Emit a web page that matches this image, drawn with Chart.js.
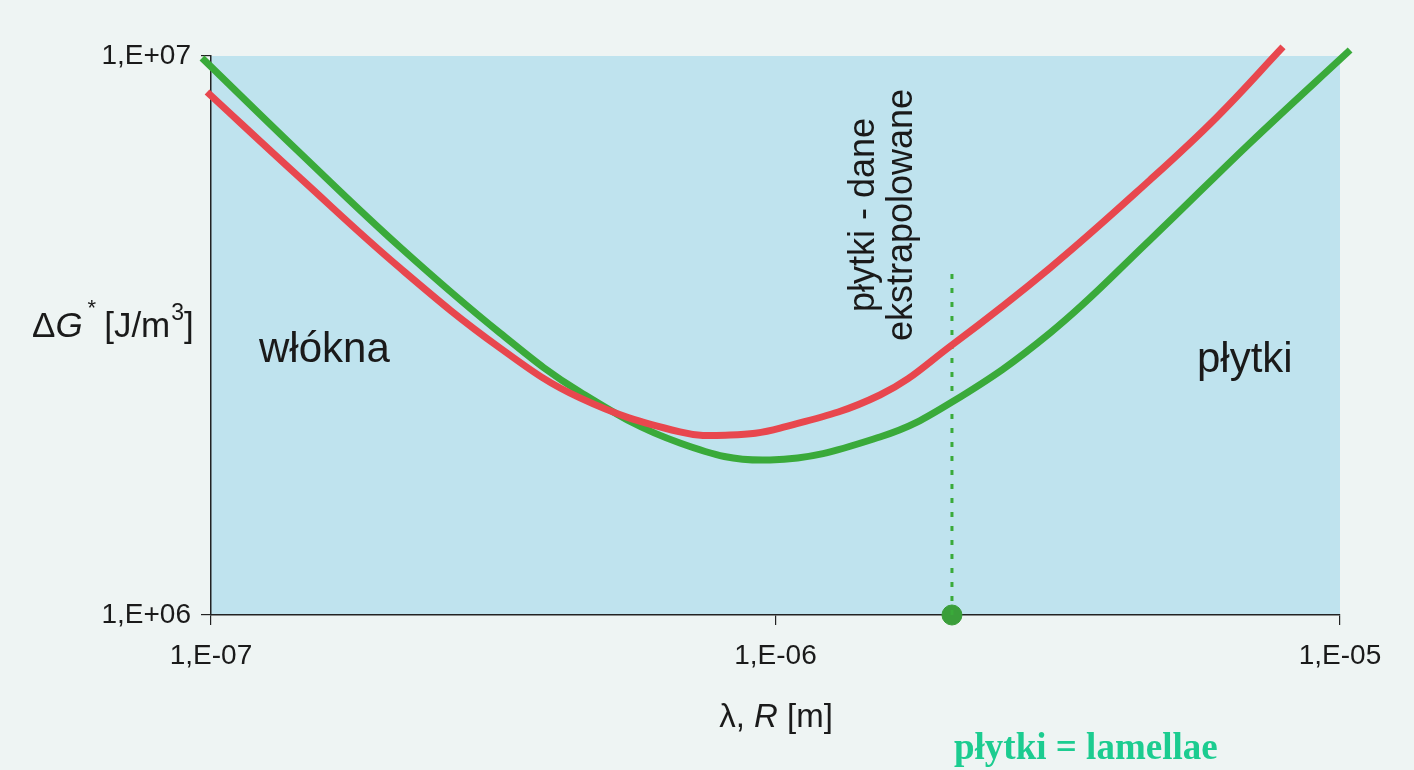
<!DOCTYPE html>
<html>
<head>
<meta charset="utf-8">
<script src="https://cdn.jsdelivr.net/npm/chart.js@4.4.1/dist/chart.umd.min.js"></script>
<style>
  html, body { margin: 0; padding: 0; background: #eef4f3; }
  canvas { display: block; }
</style>
</head>
<body>
<canvas id="c" width="1414" height="770"></canvas>
<script>
// ---- data ----
const xRed   = [9.84e-8, 1.438e-7, 2.161e-7, 3.251e-7, 4.505e-7, 6.771e-7, 8.307e-7, 1.019e-6, 1.531e-6, 2.054e-6, 3.064e-6, 4.607e-6, 6.056e-6, 7.925e-6];
const yRed   = [8.62e6, 6.051e6, 4.177e6, 3.004e6, 2.445e6, 2.126e6, 2.099e6, 2.160e6, 2.475e6, 3.041e6, 4.177e6, 6.001e6, 7.78e6, 1.038e7];
const xGreen = [9.64e-8, 1.438e-7, 2.161e-7, 3.251e-7, 4.505e-7, 6.771e-7, 9.78e-7, 1.531e-6, 2.054e-6, 3.064e-6, 4.607e-6, 6.93e-6, 1.042e-5];
const yGreen = [9.92e6, 6.707e6, 4.553e6, 3.195e6, 2.506e6, 2.031e6, 1.894e6, 2.082e6, 2.404e6, 3.195e6, 4.687e6, 6.990e6, 1.025e7];
const markerX = [2.054e-6, 2.054e-6];
const markerY = [1e6, 4.09e6];
const xTicks = [1e-7, 1e-6, 1e-5];
const yTicks = [1e6, 1e7];

const FONT = '"Liberation Sans", Arial, sans-serif';
const toPts = (xs, ys) => xs.map((x, i) => ({ x: x, y: ys[i] }));
const fmt = v => {
  const e = Math.round(Math.log10(v));
  const s = e < 0 ? '-' : '+';
  return '1,E' + s + String(Math.abs(e)).padStart(2, '0');
};

const bgPlugin = {
  id: 'bg',
  beforeDraw(chart) {
    const { ctx, chartArea: a } = chart;
    ctx.save();
    ctx.fillStyle = '#eef4f3';
    ctx.fillRect(0, 0, chart.width, chart.height);
    ctx.fillStyle = '#bfe3ee';
    ctx.fillRect(a.left, a.top, a.right - a.left, a.bottom - a.top);
    ctx.restore();
  }
};

const textPlugin = {
  id: 'texts',
  afterDraw(chart) {
    const ctx = chart.ctx;
    ctx.save();
    ctx.fillStyle = '#1a1a1a';
    ctx.textBaseline = 'alphabetic';
    // region labels
    ctx.font = '42px ' + FONT;
    ctx.textAlign = 'left';
    ctx.fillText('włókna', 259, 362);
    ctx.fillText('płytki', 1197, 372);
    // vertical labels
    ctx.font = '36px ' + FONT;
    ctx.textAlign = 'center';
    ctx.save();
    ctx.translate(874, 215);
    ctx.rotate(-Math.PI / 2);
    ctx.fillText('płytki - dane', 0, 0);
    ctx.restore();
    ctx.save();
    ctx.translate(912, 215);
    ctx.rotate(-Math.PI / 2);
    ctx.fillText('ekstrapolowane', 0, 0);
    ctx.restore();

    // y axis title: ΔG* [J/m3]
    ctx.textAlign = 'left';
    let x = 32; const by = 337;
    ctx.font = '35px ' + FONT;
    ctx.fillText('Δ', x, by); x += ctx.measureText('Δ').width;
    ctx.font = 'italic 35px ' + FONT;
    ctx.fillText('G', x, by); x += ctx.measureText('G').width + 5;
    ctx.font = '22px ' + FONT;
    ctx.fillText('*', x, by - 22); x += ctx.measureText('*').width + 8;
    ctx.font = '35px ' + FONT;
    ctx.fillText('[J/m', x, by); x += ctx.measureText('[J/m').width + 1;
    ctx.font = '23px ' + FONT;
    ctx.fillText('3', x, by - 17); x += ctx.measureText('3').width;
    ctx.font = '35px ' + FONT;
    ctx.fillText(']', x, by);

    // x axis title: λ, R [m]
    const parts = [['λ, ', '33px '], ['R', 'italic 33px '], [' [m]', '33px ']];
    let w = 0;
    parts.forEach(p => { ctx.font = p[1] + FONT; w += ctx.measureText(p[0]).width; });
    let xx = 776 - w / 2;
    parts.forEach(p => { ctx.font = p[1] + FONT; ctx.fillText(p[0], xx, 727); xx += ctx.measureText(p[0]).width; });

    // note
    ctx.fillStyle = '#1ccc90';
    ctx.font = 'bold 37px "Liberation Serif", "Times New Roman", serif';
    ctx.fillText('płytki = lamellae', 954, 759);
    ctx.restore();
  }
};

new Chart(document.getElementById('c'), {
  type: 'line',
  data: {
    datasets: [
      { label: 'red', data: toPts(xRed, yRed), borderColor: '#e8474e', borderWidth: 7,
        pointRadius: 0, tension: 0.4, clip: false, fill: false },
      { label: 'green', data: toPts(xGreen, yGreen), borderColor: '#3aaa3a', borderWidth: 7,
        pointRadius: 0, tension: 0.4, clip: false, fill: false },
      { label: 'extrap', data: toPts(markerX, markerY), borderColor: '#3aaa3a', borderWidth: 3,
        borderDash: [5, 9], pointRadius: 0, clip: false, fill: false },
      { label: 'dot', data: [{ x: markerX[0], y: markerY[0] }], showLine: false,
        pointRadius: 10, pointBackgroundColor: '#3a9e3a', pointBorderColor: '#3a9e3a', clip: false }
    ]
  },
  options: {
    responsive: false,
    animation: false,
    devicePixelRatio: 1,
    layout: { padding: { top: 56, right: 74, left: 0, bottom: 0 } },
    plugins: { legend: { display: false }, tooltip: { enabled: false } },
    scales: {
      x: {
        type: 'logarithmic', min: 1e-7, max: 1e-5,
        afterBuildTicks: s => { s.ticks = xTicks.map(v => ({ value: v })); },
        afterFit: s => { s.height = 155; },
        ticks: { callback: v => fmt(v), color: '#1a1a1a', font: { family: FONT, size: 28 }, padding: 14, maxRotation: 0, autoSkip: false },
        grid: { drawOnChartArea: false, drawTicks: true, tickLength: 10, color: '#222', lineWidth: 1.2 },
        border: { display: true, color: '#222', width: 1.5 }
      },
      y: {
        type: 'logarithmic', min: 1e6, max: 1e7,
        afterBuildTicks: s => { s.ticks = yTicks.map(v => ({ value: v })); },
        afterFit: s => { s.width = 211; },
        ticks: { callback: v => fmt(v), color: '#1a1a1a', font: { family: FONT, size: 28 }, padding: 10, autoSkip: false },
        grid: { drawOnChartArea: false, drawTicks: true, tickLength: 10, color: '#222', lineWidth: 1.2 },
        border: { display: true, color: '#222', width: 1.5 }
      }
    }
  },
  plugins: [bgPlugin, textPlugin]
});
</script>
</body>
</html>
